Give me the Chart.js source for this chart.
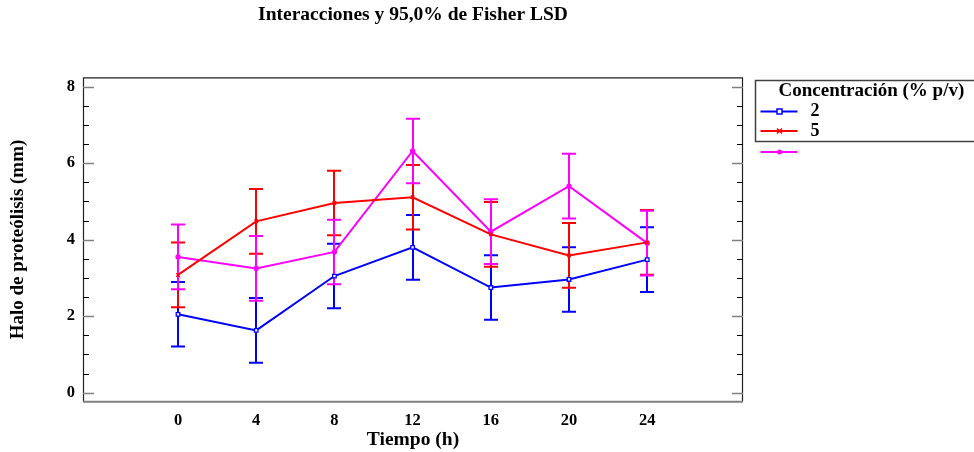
<!DOCTYPE html>
<html>
<head>
<meta charset="utf-8">
<script src="https://cdn.jsdelivr.net/npm/chart.js@4.4.1/dist/chart.umd.min.js"></script>
<style>
  html, body { margin: 0; padding: 0; background: #fff; }
  #wrap { width: 974px; height: 452px; position: relative; }
</style>
</head>
<body>
<div id="wrap"><canvas id="c" width="974" height="452"></canvas></div>
<script>
// Tiempo (h) on the x axis
const times = [0, 4, 8, 12, 16, 20, 24];
// Mean halo per concentration (% p/v)
const conc2 = [2.05, 1.63, 3.05, 3.80, 2.75, 2.96, 3.48];
const conc5 = [3.08, 4.48, 4.96, 5.11, 4.14, 3.59, 3.93];
const concOther = [3.55, 3.25, 3.68, 6.32, 4.21, 5.40, 3.91];
// Half-width of the 95,0% Fisher LSD interval
const lsdHalf = 0.845;
const yTicks = [0, 2, 4, 6, 8];
const seriesLabels = ['2', '5', ''];
const legendTitle = 'Concentración (% p/v)';

const SERIF = '"Liberation Serif", "Times New Roman", serif';

function pts(arr) { return times.map((t, i) => ({ x: t, y: arr[i] })); }

// Error bars for the LSD intervals
const lsdBars = {
  id: 'lsdBars',
  beforeDatasetsDraw(chart) {
    const { ctx, scales: { x, y } } = chart;
    ctx.save();
    chart.data.datasets.forEach(ds => {
      ctx.strokeStyle = ds.borderColor;
      ctx.lineWidth = 2;
      ds.data.forEach(p => {
        const px = Math.round(x.getPixelForValue(p.x));
        const yt = y.getPixelForValue(p.y + lsdHalf);
        const yb = y.getPixelForValue(p.y - lsdHalf);
        ctx.beginPath();
        ctx.moveTo(px, yt); ctx.lineTo(px, yb);
        ctx.moveTo(px - 7, yt); ctx.lineTo(px + 7, yt);
        ctx.moveTo(px - 7, yb); ctx.lineTo(px + 7, yb);
        ctx.stroke();
      });
    });
    ctx.restore();
  }
};

// Plot frame with inward ticks on both vertical sides
const frame = {
  id: 'frame',
  afterDraw(chart) {
    const { ctx, chartArea: a, scales: { y } } = chart;
    ctx.save();
    // left / right / top borders
    ctx.strokeStyle = '#202020';
    ctx.lineWidth = 1.2;
    ctx.beginPath();
    ctx.moveTo(a.left + 0.5, a.bottom); ctx.lineTo(a.left + 0.5, a.top + 0.5);
    ctx.lineTo(a.right - 0.5, a.top + 0.5); ctx.lineTo(a.right - 0.5, a.bottom);
    ctx.stroke();
    // bottom border
    ctx.strokeStyle = '#808080';
    ctx.lineWidth = 2;
    ctx.beginPath();
    ctx.moveTo(a.left, a.bottom); ctx.lineTo(a.right, a.bottom);
    ctx.stroke();
    // ticks every 0.5, major every 2
    for (let v = 0; v <= 8.001; v += 0.5) {
      const py = Math.round(y.getPixelForValue(v)) + 0.5;
      const major = Math.abs(v / 2 - Math.round(v / 2)) < 1e-6;
      const len = major ? 11 : 6;
      ctx.strokeStyle = major ? '#808080' : '#000';
      ctx.lineWidth = major ? 1.6 : 1;
      ctx.beginPath();
      ctx.moveTo(a.left, py); ctx.lineTo(a.left + len, py);
      ctx.moveTo(a.right, py); ctx.lineTo(a.right - len, py);
      ctx.stroke();
    }
    ctx.restore();
  }
};

function marker(ctx, style, cx, cy, color) {
  ctx.save();
  ctx.strokeStyle = color; ctx.fillStyle = color; ctx.lineWidth = 1.5;
  if (style === 'rect') {
    ctx.fillStyle = '#fff';
    ctx.fillRect(cx - 2.5, cy - 2.5, 5, 5);
    ctx.strokeRect(cx - 2.5, cy - 2.5, 5, 5);
  } else if (style === 'crossRot') {
    ctx.beginPath();
    ctx.moveTo(cx - 2.5, cy - 2.5); ctx.lineTo(cx + 2.5, cy + 2.5);
    ctx.moveTo(cx + 2.5, cy - 2.5); ctx.lineTo(cx - 2.5, cy + 2.5);
    ctx.stroke();
  } else {
    ctx.beginPath(); ctx.arc(cx, cy, 2.5, 0, Math.PI * 2); ctx.fill();
  }
  ctx.restore();
}

// Boxed legend to the right of the plot
const sideLegend = {
  id: 'sideLegend',
  afterDraw(chart) {
    const { ctx, chartArea: a } = chart;
    const bx = a.right + 12.5, by = 80.5;
    ctx.save();
    ctx.strokeStyle = '#404040';
    ctx.lineWidth = 1.5;
    ctx.strokeRect(bx, by, 260, 61);
    ctx.fillStyle = '#000';
    ctx.font = 'bold 19px ' + SERIF;
    ctx.textBaseline = 'middle';
    ctx.textAlign = 'left';
    ctx.fillText(legendTitle, bx + 23, by + 11);
    const rows = [by + 31, by + 50.5, by + 71.5];
    chart.data.datasets.forEach((ds, i) => {
      const ry = rows[i];
      ctx.strokeStyle = ds.borderColor;
      ctx.lineWidth = 2;
      ctx.beginPath();
      ctx.moveTo(bx + 5, ry); ctx.lineTo(bx + 42, ry);
      ctx.stroke();
      marker(ctx, ds.pointStyle, bx + 24, ry, ds.borderColor);
      if (ds.label) {
        ctx.fillStyle = '#000';
        ctx.font = 'bold 18px ' + SERIF;
        ctx.fillText(ds.label, bx + 55, ry);
      }
    });
    ctx.restore();
  }
};

const colors = ['#0000ff', '#ff0000', '#ff00ff'];
const styles = ['rect', 'crossRot', 'circle'];
const series = [conc2, conc5, concOther];

new Chart(document.getElementById('c'), {
  type: 'line',
  data: {
    datasets: series.map((s, i) => ({
      label: seriesLabels[i],
      data: pts(s),
      borderColor: colors[i],
      backgroundColor: i === 0 ? '#fff' : colors[i],
      borderWidth: 2,
      pointStyle: styles[i],
      pointRadius: i === 2 ? 2 : 2.5,
      pointBorderWidth: 1.3,
      pointBorderColor: colors[i],
      pointBackgroundColor: i === 0 ? '#fff' : colors[i],
      tension: 0
    }))
  },
  options: {
    responsive: false,
    animation: false,
    events: [],
    layout: { padding: { left: 0, right: 231, top: 0, bottom: 0 } },
    plugins: {
      legend: { display: false },
      tooltip: { enabled: false },
      title: {
        display: true,
        fullSize: false,
        text: 'Interacciones y 95,0% de Fisher LSD',
        color: '#000',
        font: { family: SERIF, size: 19.5, weight: 'bold', lineHeight: 1.2 },
        padding: { top: 3.3, bottom: 50.6 }
      }
    },
    scales: {
      x: {
        type: 'linear',
        min: -4.86,
        max: 28.9,
        afterBuildTicks(s) { s.ticks = times.map(v => ({ value: v })); },
        afterFit(s) { s.height = 50.3; },
        grid: { display: false, drawTicks: false },
        border: { display: false },
        ticks: {
          color: '#000',
          padding: 9,
          font: { family: SERIF, size: 16.5, weight: 'bold' }
        },
        title: {
          display: true,
          text: 'Tiempo (h)',
          color: '#000',
          font: { family: SERIF, size: 19.5, weight: 'bold', lineHeight: 1.2 },
          padding: { top: 0, bottom: 0.3 }
        }
      },
      y: {
        min: -0.235,
        max: 8.246,
        afterBuildTicks(s) { s.ticks = yTicks.map(v => ({ value: v })); },
        afterFit(s) { s.width = 83; },
        grid: { display: false, drawTicks: false },
        border: { display: false },
        ticks: {
          color: '#000',
          padding: 8,
          font: { family: SERIF, size: 16.5, weight: 'bold' }
        },
        title: {
          display: true,
          text: 'Halo de proteólisis (mm)',
          color: '#000',
          font: { family: SERIF, size: 19, weight: 'bold', lineHeight: 1.2 },
          padding: { top: 6.9, bottom: 0 }
        }
      }
    }
  },
  plugins: [lsdBars, frame, sideLegend]
});
</script>
</body>
</html>
